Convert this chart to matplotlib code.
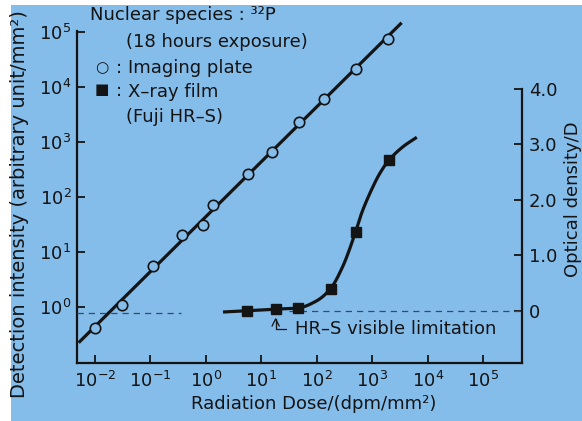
import numpy as np
import matplotlib
matplotlib.use("Agg")
import matplotlib.pyplot as plt

# ----------------------------------------------------
#                      DATA
# ----------------------------------------------------
# Imaging plate (open circles), dose in dpm/mm2, intensity in arbitrary unit/mm2
ip_dose = [10**-2.0, 10**-1.5, 10**-0.95, 10**-0.43, 10**-0.05, 10**0.14,
           10**0.77, 10**1.19, 10**1.68, 10**2.13, 10**2.70, 10**3.28]
ip_intensity = [10**-0.38, 10**0.04, 10**0.75, 10**1.31, 10**1.49, 10**1.85,
                10**2.42, 10**2.82, 10**3.36, 10**3.78, 10**4.33, 10**4.87]
ip_line_range = [10**-2.27, 10**3.51]

# X-ray film (filled squares), optical density D
film_dose = [10**0.74, 10**1.26, 10**1.66, 10**2.25, 10**2.70, 10**3.30]
film_od = [0.0, 0.03, 0.05, 0.40, 1.42, 2.71]

# points along the drawn film curve
film_curve_dose = [10**0.34, 10**0.74, 10**1.26, 10**1.66, 10**2.0, 10**2.25,
                   10**2.47, 10**2.70, 10**2.81, 10**2.96, 10**3.14, 10**3.30,
                   10**3.56, 10**3.78]
film_curve_od = [-0.02, 0.0, 0.03, 0.05, 0.18, 0.40,
                 0.80, 1.42, 1.76, 2.12, 2.48, 2.71,
                 2.96, 3.11]

x_ticks = [10.0**k for k in range(-2, 6)]
y_ticks = [10.0**k for k in range(0, 6)]
od_ticks = [0, 1.0, 2.0, 3.0, 4.0]
od_labels = ["0", "1.0", "2.0", "3.0", "4.0"]

BG = "#84bcea"
INK = "#141414"
FS = 13


def pchip(x, y, xn):
    # monotone cubic through the curve points
    x = np.asarray(x, float)
    y = np.asarray(y, float)
    h = np.diff(x)
    d = np.diff(y) / h
    m = np.zeros_like(y)
    for k in range(1, len(x) - 1):
        if d[k - 1] * d[k] > 0:
            w1 = 2 * h[k] + h[k - 1]
            w2 = h[k] + 2 * h[k - 1]
            m[k] = (w1 + w2) / (w1 / d[k - 1] + w2 / d[k])
    m[0] = d[0]
    m[-1] = d[-1]
    idx = np.clip(np.searchsorted(x, xn) - 1, 0, len(h) - 1)
    t = (xn - x[idx]) / h[idx]
    h00 = 2 * t**3 - 3 * t**2 + 1
    h10 = t**3 - 2 * t**2 + t
    h01 = -2 * t**3 + 3 * t**2
    h11 = t**3 - t**2
    return (h00 * y[idx] + h10 * h[idx] * m[idx]
            + h01 * y[idx + 1] + h11 * h[idx] * m[idx + 1])


# ----------------------------------------------------
#                      FIGURE
# ----------------------------------------------------
fig = plt.figure(figsize=(5.82, 4.21), dpi=100)
fig.patch.set_facecolor("white")
# blue page (white strip on the left and top)
fig.patches.append(plt.Rectangle((11 / 582, 0), 1, (421 - 5) / 421,
                                 transform=fig.transFigure, facecolor=BG,
                                 edgecolor="none", zorder=-10))

ax = fig.add_axes([77 / 582, 58 / 421, 445 / 582, 332 / 421])
ax.set_facecolor("none")
ax.set_xscale("log")
ax.set_yscale("log")
ax.set_xlim(10**-2.32, 10**5.70)
ax.set_ylim(10**-1.02, 10**5.02)

ax2 = ax.twinx()
ax2.set_ylim(-0.94, 5.04)

for a in (ax, ax2):
    a.spines["top"].set_visible(False)
    for s in a.spines.values():
        s.set_linewidth(1.6)
        s.set_color(INK)
ax2.spines["left"].set_visible(False)
ax2.spines["bottom"].set_visible(False)
ax.spines["right"].set_visible(False)
ax2.spines["right"].set_bounds(-0.94, 4.0)

ax.set_xticks(x_ticks)
ax.set_yticks(y_ticks)
ax.xaxis.set_minor_locator(matplotlib.ticker.NullLocator())
ax.yaxis.set_minor_locator(matplotlib.ticker.NullLocator())
ax.tick_params(axis="both", direction="in", length=6, width=1.3,
               labelsize=FS, colors=INK)
ax.tick_params(axis="x", pad=6)
ax.tick_params(axis="y", pad=4)
ax2.set_yticks(od_ticks)
ax2.set_yticklabels(od_labels)
ax2.tick_params(axis="y", direction="in", length=6, width=1.3,
                labelsize=FS, colors=INK, pad=5)

# imaging plate: straight fit in log-log
lx = np.log10(ip_dose)
ly = np.log10(ip_intensity)
slope, icpt = np.polyfit(lx, ly, 1)
xl = np.log10(ip_line_range)
ax.plot(10**xl, 10**(icpt + slope * xl), color=INK, lw=2.3, zorder=3,
        clip_on=False)
ax.plot(ip_dose, ip_intensity, "o", ms=7.5, mfc=BG, mec=INK, mew=1.2, zorder=4)

# x-ray film curve
cx = np.log10(film_curve_dose)
xs = np.linspace(cx[0], cx[-1], 300)
ax2.plot(10**xs, pchip(cx, film_curve_od, xs), color=INK, lw=2.3, zorder=3)
ax2.plot(film_dose, film_od, "s", ms=6.5, color=INK, zorder=4)

# visible limitation (dashed)
ax2.plot([10**-2.32, 10**-0.45], [-0.04, -0.04], ls=(0, (5, 4)), lw=0.9,
         color="#3a4a5c", zorder=2)
ax2.plot([10**1.5, 10**5.70], [0.0, 0.0], ls=(0, (5, 4)), lw=0.9,
         color="#3a4a5c", zorder=2)
ax2.annotate("HR\u2013S visible limitation", xy=(film_dose[1], -0.12),
             xytext=(10**1.6, -0.33), fontsize=FS, color=INK, va="center",
             ha="left",
             arrowprops=dict(arrowstyle="->", color=INK, lw=0.9,
                             shrinkA=4, shrinkB=0,
                             connectionstyle="angle,angleA=0,angleB=90,rad=0"))

# key text
fig.text(90 / 582, 1 - 15 / 421, "Nuclear species : \u00b3\u00b2P", fontsize=FS,
         color=INK, va="center")
fig.text(126 / 582, 1 - 42 / 421, "(18 hours exposure)", fontsize=FS,
         color=INK, va="center")
fig.text(95 / 582, 1 - 68 / 421, "\u25cb", fontsize=11, color=INK, va="center")
fig.text(95 / 582, 1 - 90 / 421, "\u25a0", fontsize=11, color=INK, va="center")
fig.text(116 / 582, 1 - 68 / 421, ":", fontsize=FS, color=INK, va="center")
fig.text(116 / 582, 1 - 91 / 421, ":", fontsize=FS, color=INK, va="center")
fig.text(128 / 582, 1 - 68 / 421, "Imaging plate", fontsize=FS, color=INK,
         va="center")
fig.text(128 / 582, 1 - 92 / 421, "X\u2013ray film", fontsize=FS, color=INK,
         va="center")
fig.text(126 / 582, 1 - 117 / 421, "(Fuji HR\u2013S)", fontsize=FS, color=INK,
         va="center")

# axis titles
fig.text(314 / 582, 1 - 404 / 421, "Radiation Dose/(dpm/mm\u00b2)", fontsize=FS,
         color=INK, ha="center", va="center")
fig.text(20 / 582, 1 - 204 / 421, "Detection intensity (arbitrary unit/mm\u00b2)",
         fontsize=14, color=INK, ha="center", va="center", rotation=90)
fig.text(573 / 582, 1 - 199 / 421, "Optical density/D", fontsize=FS,
         color=INK, ha="center", va="center", rotation=90)

fig.savefig("out.png", dpi=100, facecolor=fig.get_facecolor())
